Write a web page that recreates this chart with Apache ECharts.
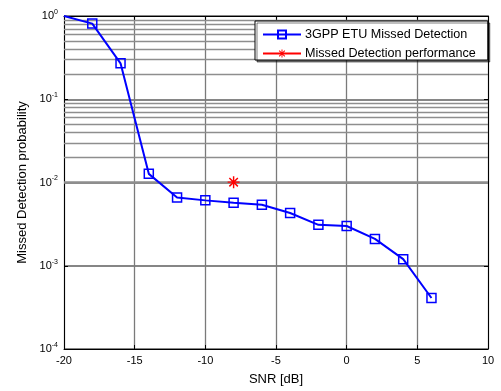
<!DOCTYPE html>
<html>
<head>
<meta charset="utf-8">
<script src="https://cdn.jsdelivr.net/npm/echarts@6/dist/echarts.min.js"></script>
<style>
  html, body { margin: 0; padding: 0; background: #fff; }
  #chart { width: 501px; height: 391px; }
</style>
</head>
<body>
<div id="chart"></div>
<script>
// data
const snr = [-20, -18, -16, -14, -12, -10, -8, -6, -4, -2, 0, 2, 4, 6];
const etuMissed = [1.0, 0.81, 0.27, 0.0127, 0.0066, 0.0061, 0.0057, 0.0054, 0.0043, 0.0031, 0.0030, 0.0021, 0.0012, 0.00041];
const perfSnr = [-8];
const perfMissed = [0.0101];
const xTicks = [-20, -15, -10, -5, 0, 5, 10];
const decades = [-4, -3, -2, -1, 0];

const FONT = 'Liberation Sans';

// minor log grid lines 2..9 inside every decade
const minorLines = [];
decades.slice(0, -1).forEach((d) => {
  for (let k = 2; k <= 9; k++) minorLines.push({ yAxis: k * Math.pow(10, d) });
});

const asterisk = 'path://M-0.6,-5L0.6,-5L0.6,5L-0.6,5Z' +
  'M-5,-0.6L5,-0.6L5,0.6L-5,0.6Z' +
  'M-3.96,-3.11L-3.11,-3.96L3.96,3.11L3.11,3.96Z' +
  'M3.11,-3.96L3.96,-3.11L-3.11,3.96L-3.96,3.11Z';

const chart = echarts.init(document.getElementById('chart'));

const option = {
  animation: false,
  textStyle: { fontFamily: FONT },
  grid: { left: 64, right: 13, top: 16, bottom: 41 },
  legend: {
    left: 255,
    top: 21,
    z: 50,
    orient: 'vertical',
    backgroundColor: '#fff',
    borderColor: '#000',
    borderWidth: 1,
    shadowColor: 'rgba(0,0,0,0.5)',
    shadowOffsetX: 2,
    shadowOffsetY: 2,
    padding: [7, 12, 0, 7],
    itemGap: 6,
    itemWidth: 38,
    itemHeight: 10,
    textStyle: { fontFamily: FONT, fontSize: 12.6, color: '#000', padding: [0, 0, 0, -1] },
    data: ['3GPP ETU Missed Detection', 'Missed Detection performance'],
  },
  xAxis: [
    {
      type: 'value',
      min: -20,
      max: 10,
      interval: 5,
      name: 'SNR [dB]',
      nameLocation: 'middle',
      nameGap: 24,
      nameTextStyle: { fontFamily: FONT, fontSize: 13, color: '#000' },
      axisLine: { onZero: false, lineStyle: { color: '#000', width: 1 } },
      axisTick: { inside: true, length: 4, lineStyle: { color: '#000' } },
      axisLabel: { color: '#000', fontSize: 11, margin: 6, fontFamily: FONT },
      splitLine: { show: true, lineStyle: { color: '#7a7a7a', width: 1.3 } },
    },
    {
      type: 'value',
      position: 'top',
      min: -20,
      max: 10,
      interval: 5,
      axisLine: { show: true, onZero: false, lineStyle: { color: '#000', width: 1 } },
      axisTick: { inside: true, length: 4, lineStyle: { color: '#000' } },
      axisLabel: { show: false },
      splitLine: { show: false },
    },
  ],
  yAxis: [
    {
      type: 'log',
      logBase: 10,
      min: 1e-4,
      max: 1,
      name: 'Missed Detection probability',
      nameLocation: 'middle',
      nameGap: 35,
      nameTextStyle: { fontFamily: FONT, fontSize: 13, color: '#000' },
      axisLine: { show: true, onZero: false, lineStyle: { color: '#000', width: 1 } },
      axisTick: { inside: true, length: 4, lineStyle: { color: '#000' } },
      axisLabel: {
        margin: 6,
        formatter: (v) => '{b|10}{s|' + Math.round(Math.log10(v)) + '}',
        rich: {
          b: { fontSize: 11, color: '#000', fontFamily: FONT },
          s: { fontSize: 7, color: '#000', fontFamily: FONT, padding: [0, 0, 8, 0] },
        },
      },
      splitLine: { show: true, lineStyle: { color: '#5e5e5e', width: 1.5 } },
    },
    {
      type: 'log',
      logBase: 10,
      min: 1e-4,
      max: 1,
      position: 'right',
      axisLine: { show: true, onZero: false, lineStyle: { color: '#000', width: 1 } },
      axisTick: { inside: true, length: 4, lineStyle: { color: '#000' } },
      axisLabel: { show: false },
      splitLine: { show: false },
    },
  ],
  series: [
    {
      name: 'grid',
      type: 'line',
      data: [],
      z: 1,
      markLine: {
        silent: true,
        z: 1,
        symbol: 'none',
        label: { show: false },
        lineStyle: { color: '#8e8e8e', type: 'solid', width: 1.3 },
        data: minorLines,
      },
    },
    {
      name: '3GPP ETU Missed Detection',
      type: 'line',
      z: 5,
      // first point sits on the corner without a marker, as in the picture
      data: snr.map((x, i) => (i === 0
        ? { value: [x, etuMissed[i]], symbol: 'none' }
        : [x, etuMissed[i]])),
      symbol: 'rect',
      symbolSize: 9,
      showAllSymbol: true,
      color: '#0000ff',
      lineStyle: { color: '#0000ff', width: 2 },
      itemStyle: { color: 'rgba(0,0,0,0)', borderColor: '#0000ff', borderWidth: 1.5 },
    },
    {
      name: 'Missed Detection performance',
      type: 'line',
      z: 5,
      data: perfSnr.map((x, i) => [x, perfMissed[i]]),
      symbol: asterisk,
      symbolSize: 12,
      color: '#ff0000',
      lineStyle: { color: '#ff0000', width: 2 },
      itemStyle: { color: '#ff0000' },
    },
  ],
};

chart.setOption(option);
</script>
</body>
</html>
